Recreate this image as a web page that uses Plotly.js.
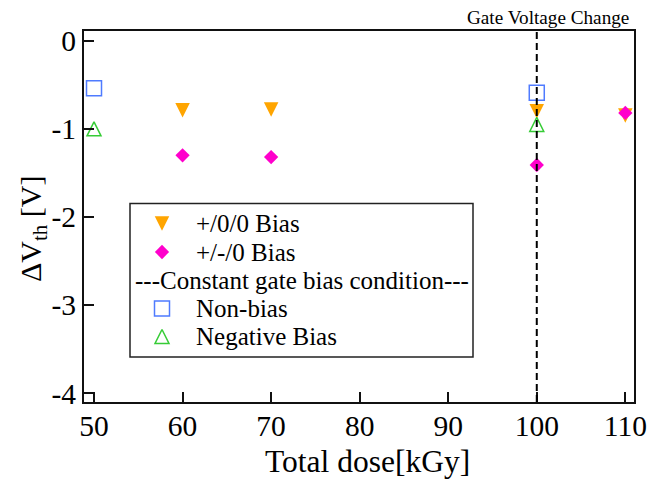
<!DOCTYPE html>
<html>
<head>
<meta charset="utf-8">
<script src="https://cdn.plot.ly/plotly-3.0.1.min.js"></script>
<style>
  html, body { margin: 0; padding: 0; background: #fff; }
  #chart { width: 664px; height: 480px; }
</style>
</head>
<body>
<div id="chart"></div>
<script>
// Threshold-voltage shift against total dose
const doseAlt = [60, 70, 100, 110];
const dvPosZeroZero = [-0.79, -0.78, -0.80, -0.85];   // +/0/0 Bias
const dvPosNegZero = [-1.30, -1.32, -1.41, -0.82];    // +/-/0 Bias
const doseConst = [50, 100];
const dvNonBias = [-0.54, -0.59];                      // Non-bias
const dvNegBias = [-1.00, -0.95];                      // Negative Bias

const seriesNames = ['+/0/0 Bias', '+/-/0 Bias', 'Non-bias', 'Negative Bias'];
const legendHeader = '---Constant gate bias condition---';
const xTicks = [50, 60, 70, 80, 90, 100, 110];
const yTicks = [0, -1, -2, -3, -4];
const yTickText = ['0', '-1', '-2', '-3', '-4'];
const markerLine = 'Gate Voltage Change';
const gateChangeDose = 100;

// page geometry (pixels)
const W = 664, H = 480;
const M = { l: 84, r: 30, t: 31, b: 78 };
const PW = W - M.l - M.r, PH = H - M.t - M.b;
const px = x => (x - M.l) / PW;
const py = y => (H - M.b - y) / PH;

const SERIF = '"Liberation Serif", "Times New Roman", Times, serif';
const ORANGE = '#FFA500', MAGENTA = '#FF00CC', BLUE = '#4F7BFF', GREEN = '#36CC36';

// marker styles shared by data traces and legend swatches
const TRI = 14.5;
const styles = [
  { symbol: 'arrow-down', size: TRI, standoff: TRI / 2, color: ORANGE, line: { width: 0 } },
  { symbol: 'diamond', size: 11, color: MAGENTA, line: { width: 0 } },
  { symbol: 'square-open', size: 15, color: BLUE, line: { color: BLUE, width: 1.5 } },
  { symbol: 'arrow-down-open', size: 14, angle: 180, standoff: 7, color: GREEN, line: { color: GREEN, width: 1.5 } }
];

const dataSets = [
  [doseAlt, dvPosZeroZero],
  [doseAlt, dvPosNegZero],
  [doseConst, dvNonBias],
  [doseConst, dvNegBias]
];

const traces = dataSets.map((d, i) => ({
  type: 'scatter', mode: 'markers', name: seriesNames[i],
  x: d[0], y: d[1], marker: styles[i], showlegend: false, cliponaxis: false
}));

// legend drawn inside the plot: box, swatches, labels
const legendBox = { x0: 130, x1: 473, y0: 203.5, y1: 357 };
const rowY = [223.5, 252, 280, 308.5, 336.5];
const swatchX = 162, textX = 194, headerX = 133;
const itemRows = [0, 1, 3, 4];
const LEG_FONT = 25;

itemRows.forEach((row, i) => {
  traces.push({
    type: 'scatter', mode: 'markers', xaxis: 'x2', yaxis: 'y2',
    x: [px(swatchX)], y: [py(rowY[row])], marker: styles[i],
    showlegend: false, hoverinfo: 'skip', cliponaxis: false
  });
});

const annotations = itemRows.map((row, i) => ({
  xref: 'paper', yref: 'paper', x: px(textX), y: py(rowY[row]),
  xanchor: 'left', yanchor: 'middle', showarrow: false,
  text: seriesNames[i], font: { family: SERIF, size: LEG_FONT, color: '#000' }
}));
annotations.push({
  xref: 'paper', yref: 'paper', x: px(headerX), y: py(rowY[2]),
  xanchor: 'left', yanchor: 'middle', showarrow: false,
  text: legendHeader, font: { family: SERIF, size: LEG_FONT, color: '#000' }
});
// axis titles
annotations.push({
  xref: 'paper', yref: 'paper', x: px(367), y: py(461),
  xanchor: 'center', yanchor: 'middle', showarrow: false,
  text: 'Total dose[kGy]', font: { family: SERIF, size: 31.5, color: '#000' }
});
annotations.push({
  xref: 'paper', yref: 'paper', x: px(33), y: py(229),
  xanchor: 'center', yanchor: 'middle', showarrow: false, textangle: -90,
  text: 'ΔV<sub>th</sub> [V]', font: { family: SERIF, size: 30, color: '#000' }
});
annotations.push({
  xref: 'paper', yref: 'paper', x: px(548), y: py(18),
  xanchor: 'center', yanchor: 'middle', showarrow: false,
  text: markerLine, font: { family: SERIF, size: 19.2, color: '#000' }
});

const shapes = [
  { type: 'line', xref: 'x', yref: 'paper', x0: gateChangeDose, x1: gateChangeDose, y0: 0, y1: 1,
    line: { color: '#000', width: 2, dash: '7px,4px' }, layer: 'above' },
  { type: 'rect', xref: 'paper', yref: 'paper',
    x0: px(legendBox.x0), x1: px(legendBox.x1), y0: py(legendBox.y1), y1: py(legendBox.y0),
    line: { color: '#222', width: 1.5 }, fillcolor: 'rgba(255,255,255,0)', layer: 'above' }
];

const axisCommon = {
  showgrid: false, zeroline: false, showline: true, linecolor: '#111', linewidth: 2,
  mirror: true, ticks: 'inside', ticklen: 10, tickwidth: 2, tickcolor: '#111',
  tickfont: { family: SERIF, size: 29.5, color: '#000' }
};

const layout = {
  width: W, height: H, margin: M,
  font: { family: SERIF, color: '#000' },
  paper_bgcolor: '#fff', plot_bgcolor: '#fff', showlegend: false,
  xaxis: Object.assign({}, axisCommon, {
    range: [48.87, 110.98], tickvals: xTicks, ticktext: xTicks.map(String),
    ticklabelstandoff: -3
  }),
  yaxis: Object.assign({}, axisCommon, {
    range: [-4.099, 0.110], tickvals: yTicks, ticktext: yTickText
  }),
  xaxis2: { overlaying: 'x', range: [0, 1], visible: false, fixedrange: true },
  yaxis2: { overlaying: 'y', range: [0, 1], visible: false, fixedrange: true },
  shapes: shapes,
  annotations: annotations
};

Plotly.newPlot('chart', traces, layout, { staticPlot: true, displayModeBar: false });
</script>
</body>
</html>
